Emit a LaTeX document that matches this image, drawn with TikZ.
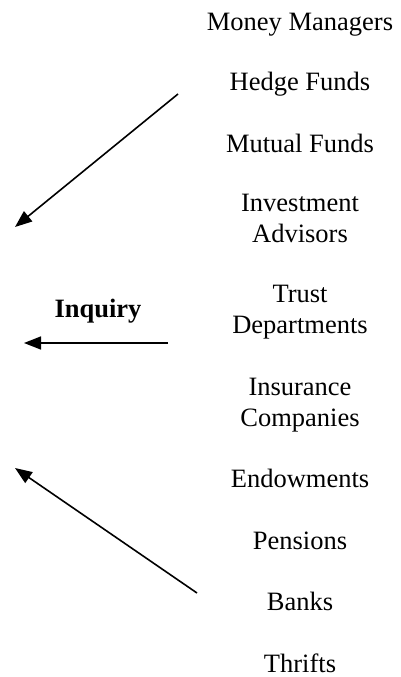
\documentclass[tikz,border=0pt]{standalone}
\usepackage{fontspec}
\setmainfont{Liberation Serif}
\usetikzlibrary{arrows.meta}

\tikzset{
  inst/.style={anchor=base, align=center, font=\fontsize{26.5}{30.5}\selectfont, inner sep=0pt},
  flow/.style={line width=1.6pt, -{Triangle[length=17pt,width=13pt]}}
}

\begin{document}
\begin{tikzpicture}[x=1pt,y=-1pt]
\useasboundingbox (0,0) rectangle (401,677);
% institutions, top to bottom (base = last line)
\foreach \nm/\txt/\y in {money/Money Managers/30.7, hedge/Hedge Funds/90, mutual/Mutual Funds/152,
    invest/{Investment\\Advisors}/242, trust/{Trust\\Departments}/333, insur/{Insurance\\Companies}/426,
    endow/Endowments/487, pens/Pensions/549, banks/Banks/610, thrift/Thrifts/672} {
  \node[inst] (\nm) at (300,\y) {\txt};
}

\node[inst, font=\fontsize{26.5}{30.5}\selectfont\bfseries] (inq) at (98,317) {Inquiry};

\coordinate (a1) at (178,94);  \coordinate (b1) at (15,227);
\coordinate (a2) at (168,343); \coordinate (b2) at (24,343);
\coordinate (a3) at (197,593); \coordinate (b3) at (15,468);
\draw[flow] (a1) -- (b1);
\draw[flow] (a2) -- (b2);
\draw[flow] (a3) -- (b3);
\end{tikzpicture}
\end{document}
